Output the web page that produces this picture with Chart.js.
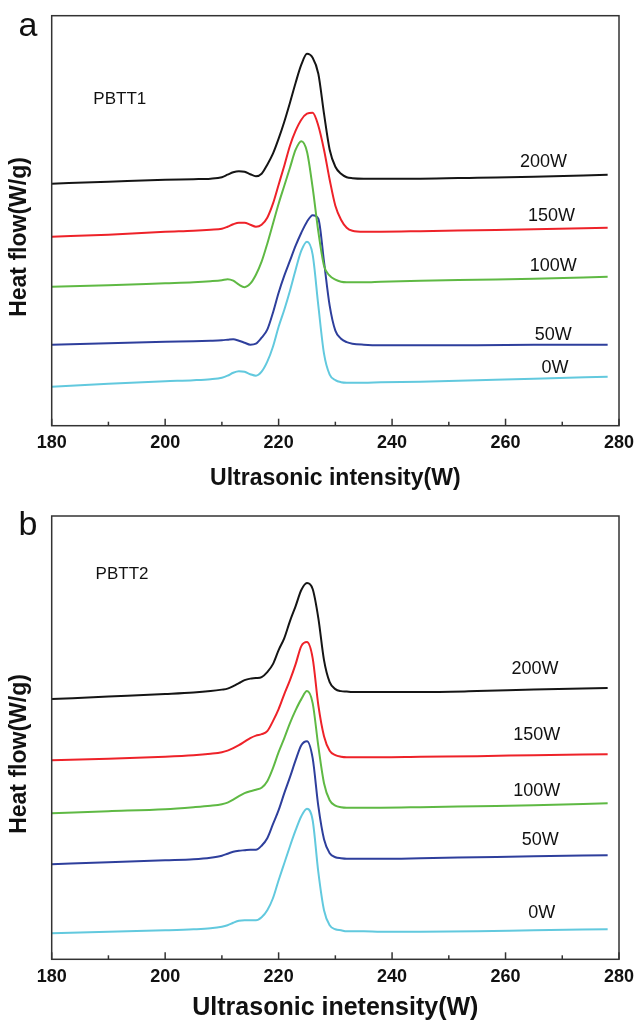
<!DOCTYPE html>
<html>
<head>
<meta charset="utf-8">
<script src="https://cdn.jsdelivr.net/npm/chart.js@4.4.1/dist/chart.umd.min.js"></script>
<style>
  html, body { margin: 0; padding: 0; background: #fff; }
  #wrap { position: relative; width: 637px; height: 1021px; overflow: hidden; }
  canvas { position: absolute; left: 0; }
</style>
</head>
<body>
<div id="wrap">
  <canvas id="graficaA" width="637" height="500" style="top:0"></canvas>
  <canvas id="graficaB" width="637" height="521" style="top:500px"></canvas>
</div>
<script>
// temperatura (eje x) comun a las dos graficas
const temperaturas = [180,190,200,205,208,210,211,212,213,214,215,216,217,218,219,220,221,222,223,224,225,226,227,228,229,230,231,232,233,235,238,245,255,265,278];
const potencias = ['200W', '150W', '100W', '50W', '0W'];
const ticksX = [180, 200, 220, 240, 260, 280];

// PBTT1 (a) - flujo de calor, unidades arbitrarias
const a200 = [242,244,246,246.5,247,248.5,251,253.5,254.5,254,251.5,249.5,252,261,272,287,304,323,343,361,372,368,352,312,276,259,252,248.5,247.5,247,247,247,248,249,251];
const a150 = [189,191,194,195,196,197,199,201.5,203,203,201,199,201,208,222,241,260,280,295,306,312,313,300,276,246,220,206,198,195,194,194,194.5,195.5,196.5,198];
const a100 = [139,140.5,142.5,143.5,144.5,145.5,146.5,145,141,138.5,142,151,164,182,202,222,240,258,276,284.5,274,238,194,160,150,146,144,143.5,143.5,143.5,144,145,146,147,149];
const a50  = [81,82.5,84,84.5,85,85.5,86,86.5,85,83,81,82,88,96,113,133,150,165,180,193,204,210.5,207,164,120,95,87,83.5,82,81,80.5,80.5,80.5,81,81];
const a0   = [39,42,44.5,45.5,46.5,48,50,53,54.5,54,51.5,50,54,64,79,99,116,135,156,175,184,171,120,72,51,45.5,43.5,43,43,43,43.5,44,45.5,47,49];

// PBTT2 (b)
const b200 = [260,262.5,265,266.5,268,269.5,270.5,273,276,279,280.5,281,282,287,295,309,321,338,353,369,376,370,341,299,277,270,268,267.5,267,267,267,267,268,269.5,271];
const b150 = [199,200.5,202.5,204,205.5,207,208.5,211,214,217.5,221,223.5,225,228,238,250,265,279,295,313,317,301,254,223,208.5,204,202.5,202,202,202,202,202.5,203,204,205];
const b100 = [146,148,150,152,153.5,155,156.5,159.5,163,166,168,169.5,171.5,178,191,207,221,236,249,260,268,256,213,176,159,153.5,152,151.5,151.5,151.5,151.5,152,153,154,156];
const b50  = [95,97,99,100,101.5,103.5,105.5,107.5,108.5,109,109.5,109.5,113.5,121,135,149,166,182,199,214,218,201,153,120,106,102,101,100.5,100.5,100.5,100.5,101,102,103,104];
const b0   = [26,27.5,29,30,31,32.5,34,36.5,38.5,39,39,39,42,49,61,79,96,113,129,143,150.5,139,87,49,34,30,29,28,28,28,27.5,27.5,28,29,30];

const colores = ['#151515', '#ee2229', '#5fb944', '#2e3f9c', '#62c9de'];
const fuente = '"Liberation Sans", Arial, sans-serif';

function puntos(vals) {
    return temperaturas.map(function (t, i) { return { x: t, y: vals[i] }; });
}

// caja, marcas interiores y textos
const plugCaja = {
    id: 'caja',
    afterDraw: function (chart, args, opts) {
        const ctx = chart.ctx;
        const ca = chart.chartArea;
        const sx = chart.scales.x;
        const sy = chart.scales.y;
        ctx.save();
        ctx.strokeStyle = '#333';
        ctx.lineWidth = 1.5;
        for (let v = 180; v <= 280; v += 10) {
            const px = sx.getPixelForValue(v);
            const largo = (v % 20 === 0) ? 7 : 4;
            ctx.beginPath();
            ctx.moveTo(px, ca.bottom);
            ctx.lineTo(px, ca.bottom - largo);
            ctx.stroke();
        }
        ctx.strokeRect(ca.left, ca.top, ca.right - ca.left, ca.bottom - ca.top);

        ctx.fillStyle = '#111';
        ctx.textAlign = 'center';
        ctx.textBaseline = 'middle';
        ctx.font = '18px ' + fuente;
        opts.etiquetas.forEach(function (e, i) {
            ctx.fillText(potencias[i], sx.getPixelForValue(e[0]), sy.getPixelForValue(e[1]));
        });
        ctx.font = '17px ' + fuente;
        ctx.fillText(opts.muestra, sx.getPixelForValue(opts.posMuestra[0]), sy.getPixelForValue(opts.posMuestra[1]));

        ctx.font = '34px ' + fuente;
        ctx.fillText(opts.letra, 28, opts.letraY);

        ctx.translate(20, opts.tituloY);
        ctx.rotate(-Math.PI / 2);
        ctx.font = 'bold 23px ' + fuente;
        ctx.fillText('Heat flow(W/g)', 0, 0);
        ctx.restore();
    }
};

function crearGrafica(idLienzo, series, cfg) {
    const $Lienzo = document.getElementById(idLienzo);
    const datasets = [];
    for (let i in series) {
        datasets.push({
            label: potencias[i],
            data: puntos(series[i]),
            borderColor: colores[i],
            borderWidth: 2,
            pointRadius: 0,
            fill: false,
            cubicInterpolationMode: 'monotone'
        });
    }
    return new Chart($Lienzo, {
        type: 'line',
        data: { datasets: datasets },
        plugins: [plugCaja],
        options: {
            responsive: false,
            animation: false,
            devicePixelRatio: 1,
            layout: { padding: { top: cfg.arriba, right: 18, left: 0, bottom: 0 } },
            plugins: {
                legend: { display: false },
                tooltip: { enabled: false },
                caja: cfg.caja
            },
            scales: {
                x: {
                    type: 'linear',
                    min: 180,
                    max: 280,
                    afterBuildTicks: function (s) { s.ticks = ticksX.map(function (v) { return { value: v }; }); },
                    afterFit: function (s) {
                        s.height = cfg.altoX;
                        s.paddingLeft = 0;
                        s.paddingRight = 0;
                    },
                    grid: { display: false, drawTicks: false },
                    border: { display: false },
                    ticks: {
                        padding: 6.5,
                        color: '#111',
                        font: { family: fuente, size: 18, weight: 'bold', lineHeight: 1.2 },
                        maxRotation: 0
                    },
                    title: {
                        display: true,
                        text: cfg.tituloX,
                        color: '#111',
                        font: { family: fuente, size: cfg.tamTitulo, weight: 'bold', lineHeight: 1 },
                        padding: { top: 0, bottom: cfg.padTitulo }
                    }
                },
                y: {
                    min: 0,
                    max: cfg.maxY,
                    afterFit: function (s) {
                        s.width = 51.7;
                        s.paddingTop = 0;
                        s.paddingBottom = 0;
                    },
                    grid: { display: false, drawTicks: false },
                    border: { display: false },
                    ticks: { display: false }
                }
            }
        }
    });
}

crearGrafica('graficaA', [a200, a150, a100, a50, a0], {
    arriba: 15.7,
    altoX: 74.3,
    maxY: 410,
    tituloX: 'Ultrasonic intensity(W)',
    tamTitulo: 23,
    padTitulo: 9.5,
    caja: {
        etiquetas: [[266.7, 263.3], [268.1, 209.3], [268.4, 159.3], [268.4, 91], [268.7, 57.7]],
        muestra: 'PBTT1',
        posMuestra: [192.0, 326],
        letra: 'a',
        letraY: 27,
        tituloY: 237
    }
});

crearGrafica('graficaB', [b200, b150, b100, b50, b0], {
    arriba: 16,
    altoX: 61.7,
    maxY: 443,
    tituloX: 'Ultrasonic inetensity(W)',
    tamTitulo: 25,
    padTitulo: 0,
    caja: {
        etiquetas: [[265.2, 289.7], [265.5, 224], [265.5, 168.3], [266.1, 119], [266.4, 46.7]],
        muestra: 'PBTT2',
        posMuestra: [192.4, 385],
        letra: 'b',
        letraY: 26,
        tituloY: 254
    }
});
</script>
</body>
</html>
